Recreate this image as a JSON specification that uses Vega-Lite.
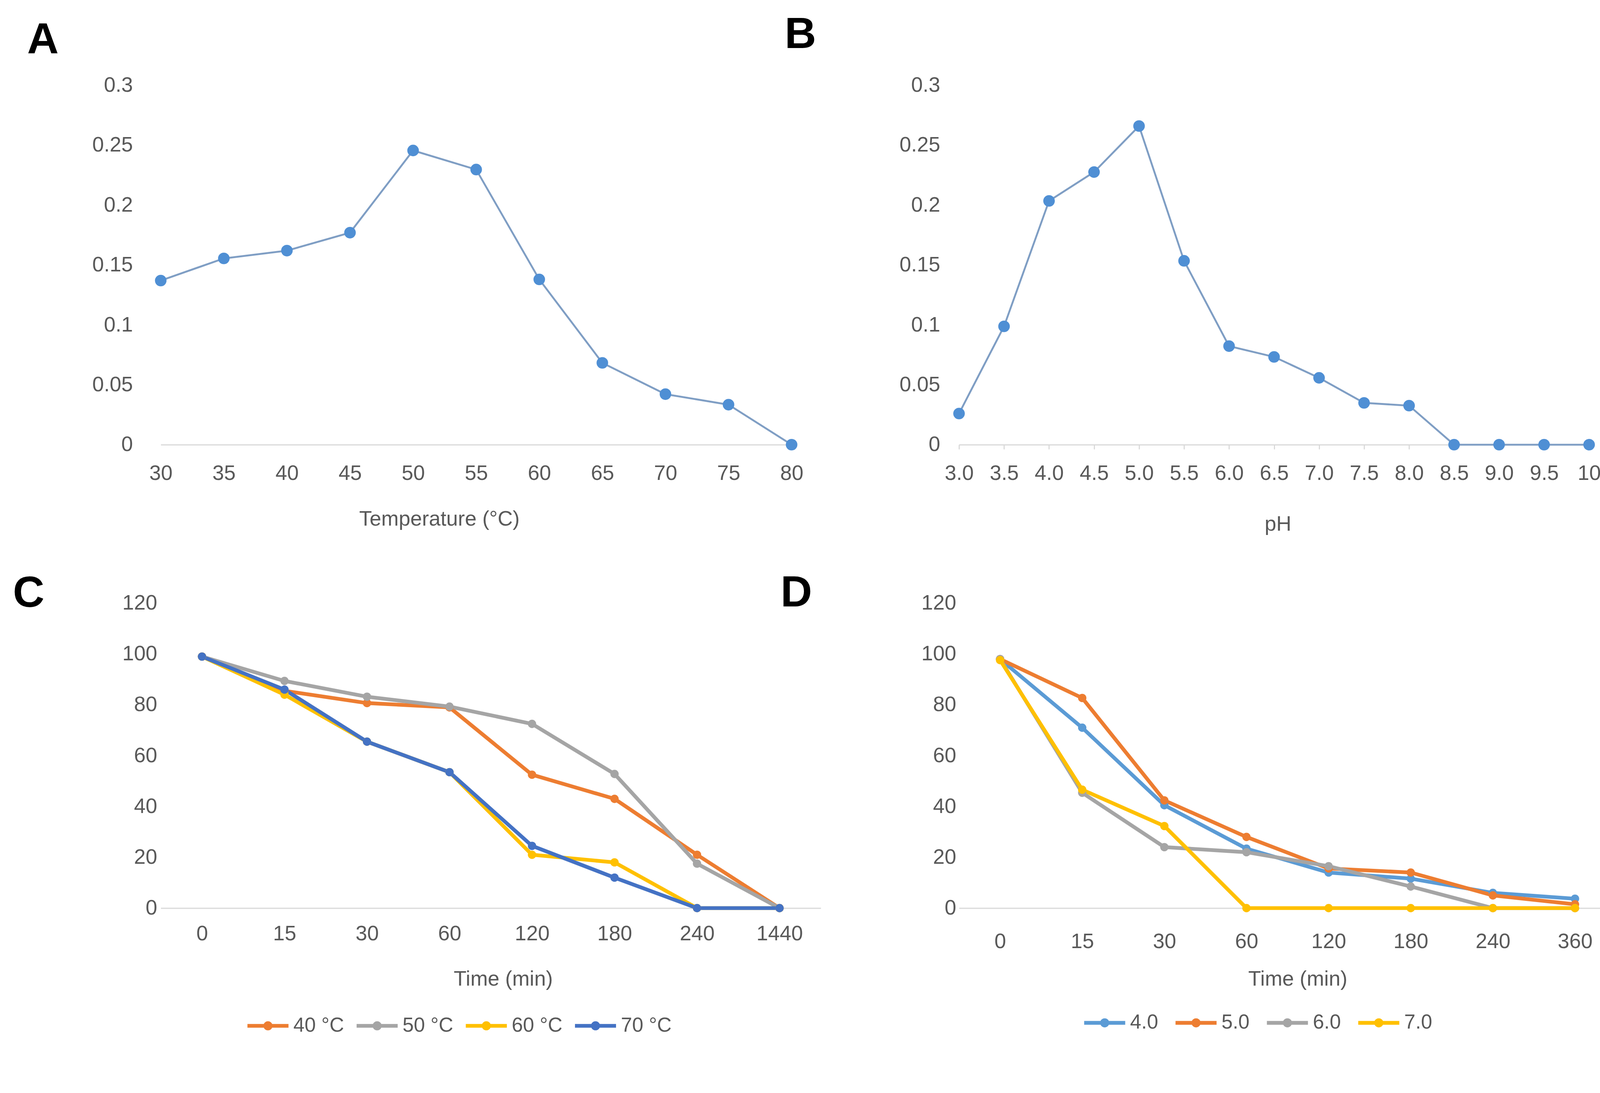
{
  "$schema": "https://vega.github.io/schema/vega-lite/v6.json",
  "background": "white",
  "padding": {"left": 32.5, "top": 33.5, "right": 10, "bottom": 10},
  "bounds": "flush",
  "columns": 2,
  "spacing": {"row": 405.2, "column": 353.6},
  "resolve": {"scale": {"color": "independent"}, "legend": {"color": "independent"}},
  "config": {
    "view": {"stroke": null},
    "font": "Liberation Sans",
    "axis": {
      "labelFont": "Liberation Sans", "labelFontSize": 53.5, "labelColor": "#595959",
      "titleFont": "Liberation Sans", "titleFontSize": 53.5, "titleColor": "#595959", "titleFontWeight": "normal",
      "grid": false, "ticks": false, "domainColor": "#d9d9d9", "domainWidth": 2.9, "labelAngle": 0
    },
    "axisY": {"domain": false},
    "legend": {
      "labelFont": "Liberation Sans", "labelFontSize": 51.6, "labelColor": "#595959",
      "symbolType": "M-1,0L1,0M0.13,0A0.13,0.13,0,1,1,-0.13,0A0.13,0.13,0,1,1,0.13,0",
      "symbolSize": 11050, "symbolStrokeWidth": 9.6, "labelOffset": 7.6, "columnPadding": 23.9,
      "padding": 0, "direction": "horizontal", "orient": "none"
    }
  },
  "concat": [
    {
      "width": 1615, "height": 920.3,
      "title": {"text": "A", "anchor": "start", "frame": "group", "dx": -342, "dy": 57, "offset": 0, "baseline": "alphabetic", "fontSize": 111.8, "fontWeight": "bold", "color": "#000000", "font": "Liberation Sans"},
      "data": {"values": [
        {"temp": 30, "act": 0.137}, {"temp": 35, "act": 0.1555}, {"temp": 40, "act": 0.162},
        {"temp": 45, "act": 0.177}, {"temp": 50, "act": 0.2456}, {"temp": 55, "act": 0.2297},
        {"temp": 60, "act": 0.138}, {"temp": 65, "act": 0.0683}, {"temp": 70, "act": 0.0422},
        {"temp": 75, "act": 0.0334}, {"temp": 80, "act": 0}
      ]},
      "mark": {"type": "line", "color": "#7f9ec4", "strokeWidth": 4.8, "point": {"filled": true, "size": 877, "color": "#4f8fd4"}},
      "encoding": {
        "x": {"field": "temp", "type": "ordinal", "scale": {"padding": 0},
              "axis": {"title": "Temperature (°C)", "labelPadding": 47.8, "titleX": 713, "titleY": 190.2, "titleBaseline": "middle"}},
        "y": {"field": "act", "type": "quantitative", "scale": {"domain": [0, 0.3]},
              "axis": {"title": null, "values": [0, 0.05, 0.1, 0.15, 0.2, 0.25, 0.3], "format": "~g", "labelPadding": 71.7}}
      }
    },
    {
      "width": 1613, "height": 920.3,
      "title": {"text": "B", "anchor": "start", "frame": "group", "dx": -446.3, "dy": 43, "offset": 0, "baseline": "alphabetic", "fontSize": 111.8, "fontWeight": "bold", "color": "#000000", "font": "Liberation Sans"},
      "data": {"values": [
        {"ph": 3.0, "act": 0.026}, {"ph": 3.5, "act": 0.0988}, {"ph": 4.0, "act": 0.2035},
        {"ph": 4.5, "act": 0.2276}, {"ph": 5.0, "act": 0.266}, {"ph": 5.5, "act": 0.1535},
        {"ph": 6.0, "act": 0.0823}, {"ph": 6.5, "act": 0.0733}, {"ph": 7.0, "act": 0.0558},
        {"ph": 7.5, "act": 0.0349}, {"ph": 8.0, "act": 0.0326}, {"ph": 8.5, "act": 0},
        {"ph": 9.0, "act": 0}, {"ph": 9.5, "act": 0}, {"ph": 10, "act": 0}
      ]},
      "mark": {"type": "line", "color": "#7f9ec4", "strokeWidth": 4.8, "point": {"filled": true, "size": 877, "color": "#4f8fd4"}},
      "encoding": {
        "x": {"field": "ph", "type": "ordinal", "scale": {"padding": 0},
              "axis": {"title": "pH", "labelExpr": "datum.value == 10 ? '10' : format(datum.value, '.1f')", "ticks": true, "tickSize": 11.5, "tickColor": "#d9d9d9", "tickWidth": 2.9, "labelPadding": 36.3, "titleX": 816, "titleY": 203.6, "titleBaseline": "middle"}},
        "y": {"field": "act", "type": "quantitative", "scale": {"domain": [0, 0.3]},
              "axis": {"title": null, "values": [0, 0.05, 0.1, 0.15, 0.2, 0.25, 0.3], "format": "~g", "labelPadding": 48.7}}
      }
    },
    {
      "width": 1689.7, "height": 780.8,
      "title": {"text": "C", "anchor": "start", "frame": "group", "dx": -378.4, "dy": 148.1, "offset": 0, "baseline": "alphabetic", "fontSize": 111.8, "fontWeight": "bold", "color": "#000000", "font": "Liberation Sans"},
      "data": {"values": [
        {"time": 0, "series": "40 °C", "val": 99}, {"time": 15, "series": "40 °C", "val": 85.5}, {"time": 30, "series": "40 °C", "val": 80.7}, {"time": 60, "series": "40 °C", "val": 79}, {"time": 120, "series": "40 °C", "val": 52.5}, {"time": 180, "series": "40 °C", "val": 43}, {"time": 240, "series": "40 °C", "val": 21}, {"time": 1440, "series": "40 °C", "val": 0},
        {"time": 0, "series": "50 °C", "val": 99}, {"time": 15, "series": "50 °C", "val": 89.4}, {"time": 30, "series": "50 °C", "val": 83.2}, {"time": 60, "series": "50 °C", "val": 79.3}, {"time": 120, "series": "50 °C", "val": 72.5}, {"time": 180, "series": "50 °C", "val": 52.8}, {"time": 240, "series": "50 °C", "val": 17.5}, {"time": 1440, "series": "50 °C", "val": 0},
        {"time": 0, "series": "60 °C", "val": 99}, {"time": 15, "series": "60 °C", "val": 84}, {"time": 30, "series": "60 °C", "val": 65.5}, {"time": 60, "series": "60 °C", "val": 53.5}, {"time": 120, "series": "60 °C", "val": 21}, {"time": 180, "series": "60 °C", "val": 18}, {"time": 240, "series": "60 °C", "val": 0}, {"time": 1440, "series": "60 °C", "val": 0},
        {"time": 0, "series": "70 °C", "val": 99}, {"time": 15, "series": "70 °C", "val": 86}, {"time": 30, "series": "70 °C", "val": 65.5}, {"time": 60, "series": "70 °C", "val": 53.5}, {"time": 120, "series": "70 °C", "val": 24.5}, {"time": 180, "series": "70 °C", "val": 12}, {"time": 240, "series": "70 °C", "val": 0}, {"time": 1440, "series": "70 °C", "val": 0}
      ]},
      "mark": {"type": "line", "strokeWidth": 9.6, "point": {"filled": true, "size": 457}},
      "encoding": {
        "x": {"field": "time", "type": "ordinal", "scale": {"padding": 0.5},
              "axis": {"title": "Time (min)", "labelPadding": 40.1, "titleX": 876.4, "titleY": 181.6, "titleBaseline": "middle"}},
        "y": {"field": "val", "type": "quantitative", "scale": {"domain": [0, 120]},
              "axis": {"title": null, "values": [0, 20, 40, 60, 80, 100, 120], "labelPadding": 9.6}},
        "color": {"field": "series", "type": "nominal",
                  "scale": {"domain": ["40 °C", "50 °C", "60 °C", "70 °C"], "range": ["#ED7D31", "#A5A5A5", "#FFC000", "#4472C4"]},
                  "legend": {"title": null, "orient": "none", "legendX": 217, "legendY": 1024.5, "direction": "horizontal", "columnPadding": 11.5}}
      }
    },
    {
      "width": 1682, "height": 780.8,
      "title": {"text": "D", "anchor": "start", "frame": "group", "dx": -456.8, "dy": 147.2, "offset": 0, "baseline": "alphabetic", "fontSize": 111.8, "fontWeight": "bold", "color": "#000000", "font": "Liberation Sans"},
      "data": {"values": [
        {"time": 0, "series": "4.0", "val": 98}, {"time": 15, "series": "4.0", "val": 71}, {"time": 30, "series": "4.0", "val": 40.5}, {"time": 60, "series": "4.0", "val": 23.4}, {"time": 120, "series": "4.0", "val": 14}, {"time": 180, "series": "4.0", "val": 11.6}, {"time": 240, "series": "4.0", "val": 6}, {"time": 360, "series": "4.0", "val": 3.7},
        {"time": 0, "series": "5.0", "val": 98}, {"time": 15, "series": "5.0", "val": 82.7}, {"time": 30, "series": "5.0", "val": 42.4}, {"time": 60, "series": "5.0", "val": 28}, {"time": 120, "series": "5.0", "val": 15.6}, {"time": 180, "series": "5.0", "val": 14}, {"time": 240, "series": "5.0", "val": 5}, {"time": 360, "series": "5.0", "val": 1.5},
        {"time": 0, "series": "6.0", "val": 98}, {"time": 15, "series": "6.0", "val": 45.4}, {"time": 30, "series": "6.0", "val": 24}, {"time": 60, "series": "6.0", "val": 22}, {"time": 120, "series": "6.0", "val": 16.5}, {"time": 180, "series": "6.0", "val": 8.5}, {"time": 240, "series": "6.0", "val": 0}, {"time": 360, "series": "6.0", "val": 0},
        {"time": 0, "series": "7.0", "val": 97.6}, {"time": 15, "series": "7.0", "val": 46.6}, {"time": 30, "series": "7.0", "val": 32.3}, {"time": 60, "series": "7.0", "val": 0}, {"time": 120, "series": "7.0", "val": 0}, {"time": 180, "series": "7.0", "val": 0}, {"time": 240, "series": "7.0", "val": 0}, {"time": 360, "series": "7.0", "val": 0}
      ]},
      "mark": {"type": "line", "strokeWidth": 9.6, "point": {"filled": true, "size": 457}},
      "encoding": {
        "x": {"field": "time", "type": "ordinal", "scale": {"padding": 0.5},
              "axis": {"title": "Time (min)", "labelPadding": 60.2, "titleX": 866.8, "titleY": 181.6, "titleBaseline": "middle"}},
        "y": {"field": "val", "type": "quantitative", "scale": {"domain": [0, 120]},
              "axis": {"title": null, "values": [0, 20, 40, 60, 80, 100, 120], "labelPadding": 7.6}},
        "color": {"field": "series", "type": "nominal",
                  "scale": {"domain": ["4.0", "5.0", "6.0", "7.0"], "range": ["#5B9BD5", "#ED7D31", "#A5A5A5", "#FFC000"]},
                  "legend": {"title": null, "orient": "none", "legendX": 315.4, "legendY": 1016.9, "direction": "horizontal"}}
      }
    }
  ]
}
